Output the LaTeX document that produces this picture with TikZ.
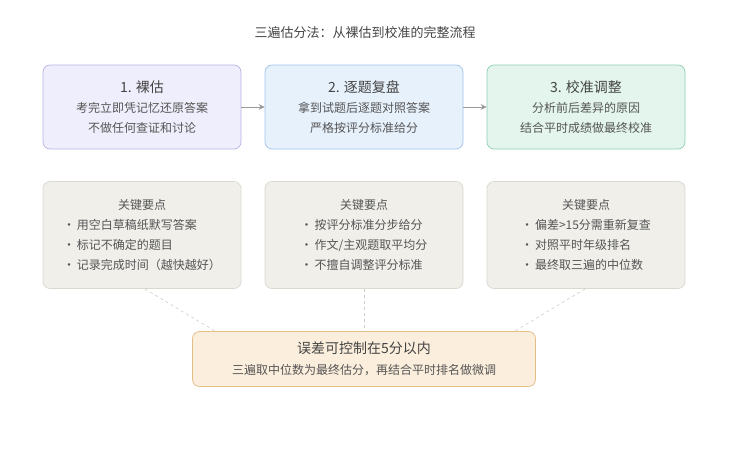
\documentclass[tikz,border=0pt]{standalone}
\usepackage{fontspec}
\setmainfont{Noto Sans CJK SC}
\usetikzlibrary{arrows.meta}
\definecolor{txt}{HTML}{444444}
\definecolor{sub}{HTML}{555555}
\tikzset{
  box/.style={draw, rounded corners=7pt, line width=0.7pt, minimum width=198pt, align=center, text=txt},
  stepbox/.style={box, minimum height=84pt},
  keybox/.style={box, minimum height=107pt, fill=keyf, draw=keyd},
  arr/.style={-{Stealth[length=6pt,width=6pt]}, draw=gray!80, line width=1pt},
  dl/.style={dashed, draw=gray!40, line width=0.6pt},
}
\newcommand{\bul}{•\hspace{2pt}}
\definecolor{f1}{HTML}{EFEEFC}\definecolor{d1}{HTML}{B8B1E2}
\definecolor{f2}{HTML}{E7F1FC}\definecolor{d2}{HTML}{9FC3EA}
\definecolor{f3}{HTML}{E3F5ED}\definecolor{d3}{HTML}{90D0B2}
\definecolor{keyf}{HTML}{F0EFEA}\definecolor{keyd}{HTML}{DAD8D0}
\definecolor{bf}{HTML}{FBEEDC}\definecolor{bd}{HTML}{E3BC86}
\begin{document}
\begin{tikzpicture}[x=1pt,y=-1pt]
\useasboundingbox (0,0) rectangle (729,450);
\node[text=txt,font=\fontsize{13}{15}\selectfont] (title) at (365,33) {三遍估分法：从裸估到校准的完整流程};
\node[stepbox,fill=f1,draw=d1,font=\fontsize{12}{20}\selectfont] (s1) at (142,107) {{\fontsize{14}{20}\selectfont 1. 裸估}\\{\color{sub}考完立即凭记忆还原答案}\\{\color{sub}不做任何查证和讨论}};
\node[stepbox,fill=f2,draw=d2,font=\fontsize{12}{20}\selectfont] (s2) at (364,107) {{\fontsize{14}{20}\selectfont 2. 逐题复盘}\\{\color{sub}拿到试题后逐题对照答案}\\{\color{sub}严格按评分标准给分}};
\node[stepbox,fill=f3,draw=d3,font=\fontsize{12}{20}\selectfont] (s3) at (586,107) {{\fontsize{14}{20}\selectfont 3. 校准调整}\\{\color{sub}分析前后差异的原因}\\{\color{sub}结合平时成绩做最终校准}};
\draw[arr] (s1) -- (s2);
\draw[arr] (s2) -- (s3);
\node[keybox,font=\fontsize{12}{20}\selectfont] (k1) at (142,235) {\color{sub}\begin{tabular}{@{}l@{}}\multicolumn{1}{c}{关键要点}\\\bul 用空白草稿纸默写答案\\\bul 标记不确定的题目\\\bul 记录完成时间（越快越好）\end{tabular}};
\node[keybox,font=\fontsize{12}{20}\selectfont] (k2) at (364,235) {\color{sub}\begin{tabular}{@{}l@{}}\multicolumn{1}{c}{关键要点}\\\bul 按评分标准分步给分\\\bul 作文/主观题取平均分\\\bul 不擅自调整评分标准\end{tabular}};
\node[keybox,font=\fontsize{12}{20}\selectfont] (k3) at (586,235) {\color{sub}\begin{tabular}{@{}l@{}}\multicolumn{1}{c}{关键要点}\\\bul 偏差>15分需重新复查\\\bul 对照平时年级排名\\\bul 最终取三遍的中位数\end{tabular}};
\node[box,fill=bf,draw=bd,minimum width=343pt,minimum height=55pt,font=\fontsize{12}{21}\selectfont] (b) at (364,359) {{\fontsize{14}{21}\selectfont 误差可控制在5分以内}\\{\color{sub}三遍取中位数为最终估分，再结合平时排名做微调}};
\coordinate (e1) at (145,289); \coordinate (t1) at (215,331);
\coordinate (e3) at (585,289); \coordinate (t3) at (515,331);
\draw[dl] (e1) -- (t1);
\draw[dl] (k2.south) -- (b.north);
\draw[dl] (e3) -- (t3);
\end{tikzpicture}
\end{document}
